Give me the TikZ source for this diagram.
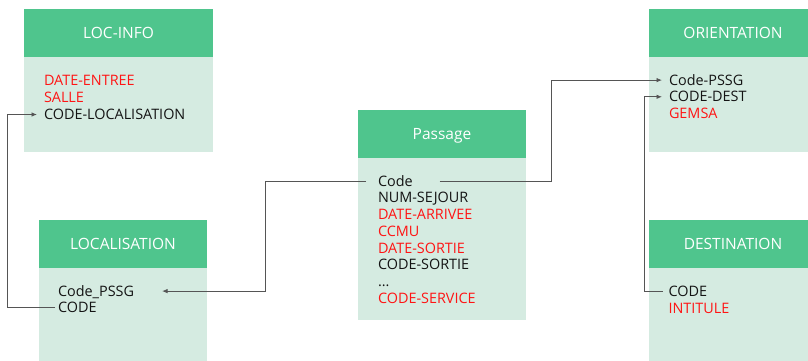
\documentclass[tikz,border=0pt]{standalone}
\usepackage{fontspec}
\setmainfont{Open Sans}
\usetikzlibrary{arrows.meta,positioning}
\newcommand\tabfont{\fontsize{14.4}{17}\selectfont}
\newcommand\headfont{\fontsize{15.5}{18}\selectfont}

\begin{document}
\begin{tikzpicture}[x=1pt,y=1pt,
		head/.style={fill=headgreen,text=white,minimum width=#1,minimum height=48pt,inner sep=0pt,outer sep=0pt,text height=11pt,text depth=0pt,font=\headfont},
		body/.style={fill=bodygreen,minimum width=#1,inner sep=0pt,outer sep=0pt},
		field/.style={inner sep=0pt,outer sep=0pt,text height=10.2pt,text depth=0pt,font=\tabfont\color{fieldblack}},
		key/.style={field,font=\tabfont\color{fieldred}},
		row/.style={below=6.5pt of #1.south west,anchor=north west},
		link/.style={draw=linkgray,line width=0.8pt,-{Latex[length=5.5pt,width=4.5pt]}}]
		    \definecolor{headgreen}{RGB}{79,197,141}
		    \definecolor{bodygreen}{RGB}{213,235,225}
		    \definecolor{fieldred}{RGB}{255,20,20}
		    \definecolor{fieldblack}{RGB}{20,20,20}
		    \definecolor{linkgray}{RGB}{85,85,85}
		    \path[use as bounding box] (0,0) rectangle (808,-360);
		    \clip (0,0) rectangle (808,-360);

		    \node[head=189pt] (lochead) at (118.5,-33) {LOC-INFO};
		    \node[body=189pt,minimum height=95pt,below=0pt of lochead] (locbody) {};
		    \node[key,below right=18pt and 20pt of locbody.north west] (dateentree) {DATE-ENTREE};
		    \node[key,below=7pt of dateentree.south west,anchor=north west] (salle) {SALLE};
		    \node[field,below=7pt of salle.south west,anchor=north west] (codeloc) {CODE-LOCALISATION};

		    \node[head=168pt] (lcthead) at (123,-244) {LOCALISATION};
		    \node[body=168pt,minimum height=100pt,below=0pt of lcthead] (lctbody) {};
		    \node[field,below right=18pt and 19pt of lctbody.north west] (lpssg) {Code\_PSSG};
		    \node[field,row=lpssg] (lcode) {CODE};

		    \node[head=168pt] (pashead) at (442,-134) {Passage};
		    \node[body=168pt,minimum height=162pt,below=0pt of pashead] (pasbody) {};
		    \node[field,below right=18pt and 20pt of pasbody.north west] (pcode) {Code};
		    \node[field,row=pcode] (numsejour) {NUM-SEJOUR};
		    \node[key,row=numsejour] (datearrivee) {DATE-ARRIVEE};
		    \node[key,row=datearrivee] (ccmu) {CCMU};
		    \node[key,row=ccmu] (datesortie) {DATE-SORTIE};
		    \node[field,row=datesortie] (codesortie) {CODE-SORTIE};
		    \node[field,row=codesortie] (dots) {...};
		    \node[key,row=dots] (codeservice) {CODE-SERVICE};

		    \node[head=168pt] (orihead) at (733,-33) {ORIENTATION};
		    \node[body=168pt,minimum height=95pt,below=0pt of orihead] (oribody) {};
		    \node[field,below right=18pt and 20pt of oribody.north west] (opssg) {Code-PSSG};
		    \node[field,row=opssg] (odest) {CODE-DEST};
		    \node[key,row=odest] (gemsa) {GEMSA};

		    \node[head=168pt] (desthead) at (733,-244) {DESTINATION};
		    \node[body=168pt,minimum height=100pt,below=0pt of desthead] (destbody) {};
		    \node[field,below right=18.5pt and 19.5pt of destbody.north west] (dcode) {CODE};
		    \node[key,row=dcode] (intitule) {INTITULE};

		    \coordinate (leftrail) at (7,0);
		    \coordinate (midrail) at (265,0);
		    \coordinate (rightrail) at (551,0);
		    \coordinate (destrail) at (644,0);

		    \draw[link] ([xshift=-3pt]lcode.west) -| (leftrail |- codeloc.west) -- ([xshift=-7pt]codeloc.west);
		    \draw[link] ([xshift=-12pt]pcode.west) -| (midrail |- lpssg.east) -- ([xshift=28pt]lpssg.east);
		    \draw[link] ([xshift=27pt]pcode.east) -| (rightrail |- opssg.west) -- ([xshift=-7pt]opssg.west);
		    \draw[link] ([xshift=-6pt]dcode.west) -| (destrail |- odest.west) -- ([xshift=-7pt]odest.west);
\end{tikzpicture}
\end{document}
